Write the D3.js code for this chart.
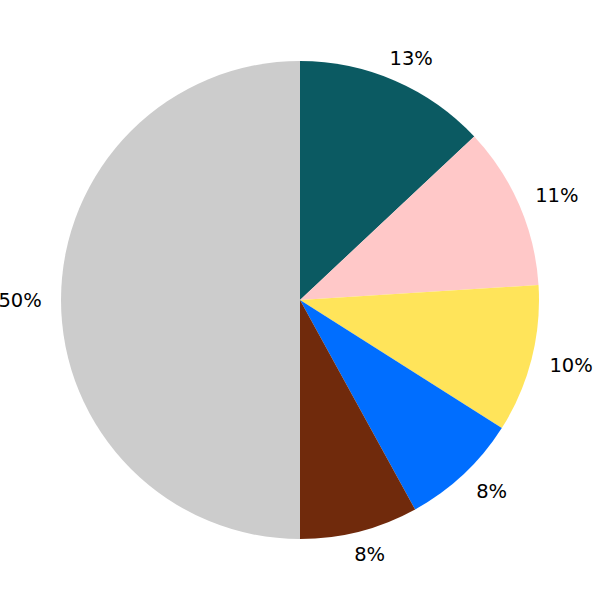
<!DOCTYPE html>
<html><head><meta charset="utf-8">
<script src="https://cdn.jsdelivr.net/npm/d3@7"></script>
<style>body{margin:0;background:#fff}</style>
</head><body>
<svg id="c" width="600" height="600"></svg>
<script>
const labels = ["13%", "11%", "10%", "8%", "8%", "50%"];
const values = [13, 11, 10, 8, 8, 50];
const colors = ["#0b5a62", "#ffc8c8", "#ffe45a", "#006eff", "#702a0c", "#cccccc"];

const svg = d3.select("#c");
const cx = 300, cy = 300, r = 239;
const g = svg.append("g").attr("transform", `translate(${cx},${cy})`);
const pie = d3.pie().sort(null).value(d => d)(values);
const arc = d3.arc().innerRadius(0).outerRadius(r);
g.selectAll("path").data(pie).enter().append("path")
  .attr("d", arc).attr("fill", (d, i) => colors[i]);
const lr = r * 1.1;
const mid = d => (d.startAngle + d.endAngle) / 2;
g.selectAll("text").data(pie).enter().append("text")
  .attr("x", d => (lr + 17) * Math.sin(mid(d)))
  .attr("y", d => -lr * Math.cos(mid(d)))
  .attr("text-anchor", "middle").attr("dominant-baseline", "central")
  .attr("font-family", "DejaVu Sans").attr("font-size", 19.5)
  .attr("fill", "#000")
  .text((d, i) => labels[i]);
</script>
</body></html>
